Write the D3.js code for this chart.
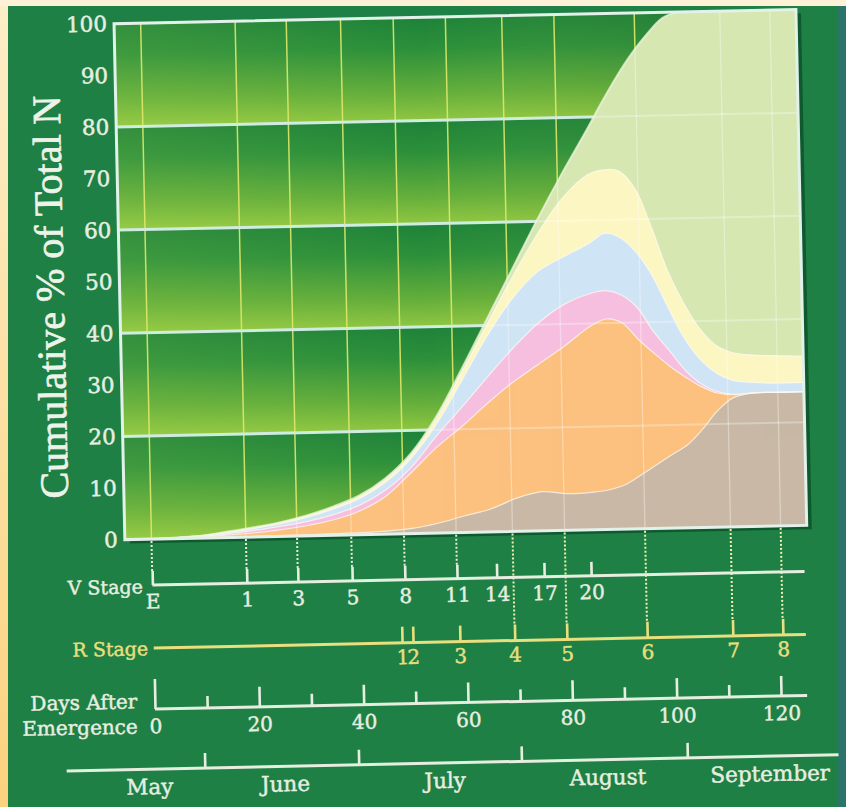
<!DOCTYPE html>
<html>
<head>
<meta charset="utf-8">
<script src="https://cdn.jsdelivr.net/npm/d3@7"></script>
<style>
  html, body { margin: 0; padding: 0; background: #1f8046; }
  svg { display: block; }
</style>
</head>
<body>
<svg id="chart" width="846" height="807"></svg>
<script>
// ---- data -------------------------------------------------------------
// days after emergence at which each band boundary is sampled
const dae       = [0, 5, 10, 15, 20, 25, 30, 35, 40, 45, 50, 55, 60, 65, 70, 75, 80, 85, 88, 91, 94, 97, 100, 103, 106, 109, 112, 116, 120, 125.6];
// cumulative % of total N at the top of each band (bottom to top)
const tanTop    = [0, 0, 0, 0.05, 0.1, 0.15, 0.2, 0.3, 0.4, 0.6, 1.0, 1.9, 3.2, 4.4, 6.4, 7.6, 7.1, 7.3, 7.7, 8.6, 10.4, 12.3, 14.2, 16.0, 19.0, 22.6, 25.0, 25.9, 25.9, 25.9];
const orangeTop = [0, 0.05, 0.2, 0.5, 0.8, 1.3, 2.0, 3.0, 4.6, 7.3, 11.8, 16.6, 20.6, 25.0, 29.0, 32.4, 35.8, 39.5, 40.8, 40.0, 36.8, 34.0, 31.4, 29.2, 27.3, 26.0, 25.6, 25.9, 25.9, 25.9];
const pinkTop   = [0, 0.1, 0.3, 0.8, 1.3, 2.0, 2.8, 4.0, 5.7, 8.5, 12.8, 18.8, 24.3, 30.0, 35.5, 40.3, 43.8, 45.8, 46.3, 45.4, 42.9, 38.2, 34.4, 30.5, 27.8, 26.3, 25.7, 25.9, 25.9, 25.9];
const blueTop   = [0, 0.2, 0.45, 1.0, 1.7, 2.5, 3.6, 5.1, 7.0, 10.0, 14.5, 21.0, 29.3, 37.8, 45.0, 50.2, 53.0, 55.5, 57.4, 56.5, 53.6, 49.0, 42.6, 36.6, 32.4, 29.8, 28.4, 27.9, 27.7, 27.7];
const yellowTop = [0, 0.2, 0.5, 1.1, 1.8, 2.7, 3.9, 5.4, 7.4, 10.5, 15.1, 22.0, 30.8, 40.0, 49.0, 57.3, 64.3, 68.8, 69.7, 69.4, 66.0, 58.5, 49.8, 43.4, 38.4, 35.2, 33.8, 33.2, 33.0, 32.8];
const greenTop  = [0, 0.2, 0.5, 1.2, 1.9, 2.8, 4.0, 5.6, 7.6, 10.8, 15.5, 22.5, 31.5, 41.0, 50.5, 60.0, 69.0, 77.5, 82.8, 87.8, 92.2, 95.9, 98.9, 100, 100, 100, 100, 100, 100, 100];

const yTicks = [0, 10, 20, 30, 40, 50, 60, 70, 80, 90, 100];
const gridValues = [20, 40, 60, 80];

const vStageLabels = ["E", "1", "3", "5", "8", "11", "14", "17", "20"];
const vStageDays   = [0, 18.1, 27.9, 38.3, 48.4, 58.4, 66.0, 75.1, 84.1];
const rStageLabels = ["1", "2", "3", "4", "5", "6", "7", "8"];
const rStageDays   = [47.6, 49.7, 58.7, 69.2, 79.2, 94.6, 111.0, 120.6];

const dayMajorTicks = [0, 20, 40, 60, 80, 100, 120];
const dayMinorTicks = [10, 30, 50, 70, 90, 110];

const monthNames     = ["May", "June", "July", "August", "September"];
const monthBreaks    = [9.3, 38.8, 70.0, 101.8];
const monthLabelDays = [-1.3, 24.7, 55.3, 86.5, 117.6];

// ---- setup ------------------------------------------------------------
const W = 846, H = 807;
const svg = d3.select("#chart");
const defs = svg.append("defs");

const SERIF = "'DejaVu Serif', serif";
const TITLE_SERIF = "'Liberation Serif', 'Times New Roman', serif";
const WHITE = "#e6eee0";
const YELLOW = "#e8df7e";

// page
svg.append("rect").attr("width", W).attr("height", H).attr("fill", "#1f8046");
svg.append("rect").attr("x", 837).attr("y", 0).attr("width", 9).attr("height", H).attr("fill", "#2a746a");
const edge = defs.append("linearGradient").attr("id", "edgeL")
  .attr("x1", 0).attr("y1", 0).attr("x2", 0).attr("y2", 1);
edge.append("stop").attr("offset", 0).attr("stop-color", "#fdeec8");
edge.append("stop").attr("offset", 1).attr("stop-color", "#fbd27e");
svg.append("rect").attr("x", 0).attr("y", 0).attr("width", 8).attr("height", H).attr("fill", "url(#edgeL)");
svg.append("rect").attr("x", 0).attr("y", 0).attr("width", W).attr("height", 6).attr("fill", "#fdf2d8");

// the printed figure sits slightly tilted on the page
const g = svg.append("g").attr("transform", "rotate(-1.2,440,400)");

const x = d3.scaleLinear().domain([-5.1, 125.6]).range([122, 804]);
const y = d3.scaleLinear().domain([0, 100]).range([533, 17]);
const [px0, px1] = x.range();
const [py1, py0] = [y(0), y(100)];

defs.append("clipPath").attr("id", "panelClip").append("rect")
  .attr("x", px0).attr("y", py0).attr("width", px1 - px0).attr("height", py1 - py0);

// drop shadow behind the plot panel
g.append("rect")
  .attr("x", px0 + 5).attr("y", py0 + 4)
  .attr("width", px1 - px0).attr("height", py1 - py0)
  .attr("fill", "#0e5a2e");

// ---- plot background: shaded 20% bands --------------------------------
const band = defs.append("linearGradient").attr("id", "bandFill")
  .attr("x1", 0).attr("y1", 0).attr("x2", 0).attr("y2", 1);
[[0, "#1d8239"], [0.3, "#2b8f3a"], [0.72, "#62ad3b"], [1, "#8fc641"]]
  .forEach(([o, c]) => band.append("stop").attr("offset", o).attr("stop-color", c));

const shade = defs.append("linearGradient").attr("id", "shadeH")
  .attr("x1", 0).attr("y1", 0).attr("x2", 1).attr("y2", 0);
shade.append("stop").attr("offset", 0).attr("stop-color", "#d8f060").attr("stop-opacity", 0.12);
shade.append("stop").attr("offset", 0.45).attr("stop-color", "#d8f060").attr("stop-opacity", 0);
shade.append("stop").attr("offset", 1).attr("stop-color", "#003818").attr("stop-opacity", 0.22);

const bandEdges = [0, 20, 40, 60, 80, 100];
g.selectAll("rect.band").data(d3.pairs(bandEdges)).join("rect")
  .attr("class", "band")
  .attr("x", px0).attr("width", px1 - px0)
  .attr("y", d => y(d[1])).attr("height", d => y(d[0]) - y(d[1]))
  .attr("fill", "url(#bandFill)");
g.append("rect").attr("x", px0).attr("y", py0)
  .attr("width", px1 - px0).attr("height", py1 - py0)
  .attr("fill", "url(#shadeH)");

// stage gridlines: V stages up to 11, then R stages from 4 on
const gridDays = vStageDays.slice(0, 6).concat(rStageDays.slice(3));
g.selectAll("line.vgrid").data(gridDays).join("line")
  .attr("class", "vgrid")
  .attr("x1", d => x(d)).attr("x2", d => x(d))
  .attr("y1", py0).attr("y2", py1)
  .attr("stroke", "#dfe96a").attr("stroke-width", 1.5).attr("opacity", 0.9);
g.selectAll("line.hgrid").data(gridValues).join("line")
  .attr("class", "hgrid")
  .attr("x1", px0).attr("x2", px1)
  .attr("y1", d => y(d)).attr("y2", d => y(d))
  .attr("stroke", "#cfece0").attr("stroke-width", 3);

// ---- stacked bands ----------------------------------------------------
const layers = [
  { top: tanTop,    fill: "#c8b8a5" },
  { top: orangeTop, fill: "#fcc17e" },
  { top: pinkTop,   fill: "#f6bfe0" },
  { top: blueTop,   fill: "#cfe4f5" },
  { top: yellowTop, fill: "#fcf6c3" },
  { top: greenTop,  fill: "#d6e7b2" }
];

const curve = d3.curveCatmullRom.alpha(0.5);
const area = d3.area().curve(curve)
  .x(d => x(d.day)).y0(d => y(d.lo)).y1(d => y(d.hi));
const line = d3.line().curve(curve).x(d => x(d.day)).y(d => y(d.hi));

const bandsG = g.append("g").attr("clip-path", "url(#panelClip)");

// paint from the top band down so each lower band sits over the one above
for (let i = layers.length - 1; i >= 0; i--) {
  const pts = dae.map((day, j) => ({ day, lo: 0, hi: layers[i].top[j] }));
  bandsG.append("path").datum(pts).attr("d", area).attr("fill", layers[i].fill);
}

// faint gridlines show through the pastel bands
defs.append("clipPath").attr("id", "bandClip").append("path")
  .datum(dae.map((day, j) => ({ day, lo: 0, hi: greenTop[j] })))
  .attr("d", area);
const faint = bandsG.append("g").attr("clip-path", "url(#bandClip)");
faint.selectAll("line.fv").data(gridDays).join("line")
  .attr("x1", d => x(d)).attr("x2", d => x(d)).attr("y1", py0).attr("y2", py1)
  .attr("stroke", "#ffffff").attr("stroke-width", 1.3).attr("opacity", 0.35);
faint.selectAll("line.fh").data(gridValues).join("line")
  .attr("x1", px0).attr("x2", px1).attr("y1", d => y(d)).attr("y2", d => y(d))
  .attr("stroke", "#ffffff").attr("stroke-width", 2).attr("opacity", 0.3);

// pale outlines along each band's upper edge
layers.forEach((L, i) => {
  const pts = dae.map((day, j) => ({ day, hi: L.top[j] }));
  const last = i === layers.length - 1;
  bandsG.append("path").datum(pts).attr("d", line).attr("fill", "none")
    .attr("stroke", last ? "#eef6df" : "#fffaf0")
    .attr("stroke-width", last ? 2 : 1.2)
    .attr("opacity", 0.75);
});

// panel frame
g.append("rect").attr("x", px0).attr("y", py0)
  .attr("width", px1 - px0).attr("height", py1 - py0)
  .attr("fill", "none").attr("stroke", "#e2f2ea").attr("stroke-width", 3);

// ---- y axis -------------------------------------------------------------
const yAxis = g.append("g").attr("transform", `translate(${px0},0)`)
  .call(d3.axisLeft(y).tickValues(yTicks).tickSize(0).tickPadding(7));
yAxis.select(".domain").remove();
yAxis.selectAll("text")
  .attr("fill", WHITE).attr("stroke", WHITE).attr("stroke-width", 0.5)
  .attr("font-family", SERIF).attr("font-size", 21.5);

g.append("text")
  .attr("transform", "translate(66,289) rotate(-90)")
  .attr("text-anchor", "middle")
  .attr("font-family", TITLE_SERIF).attr("font-size", 40)
  .attr("fill", "#edf3e8").attr("stroke", "#edf3e8").attr("stroke-width", 0.7)
  .text("Cumulative % of Total N");

// ---- timeline axes under the plot -------------------------------------
const vY = 579, rY = 642, dY = 703, mY = 763;

function styleAxis(sel, color, size) {
  sel.select(".domain").remove();
  sel.selectAll(".tick line").attr("stroke", color).attr("stroke-width", 2.6);
  sel.selectAll(".tick text").attr("fill", color)
    .attr("stroke", color).attr("stroke-width", 0.45)
    .attr("font-family", SERIF).attr("font-size", size);
}
function label(txt, lx, ly, color, size) {
  g.append("text").attr("x", lx).attr("y", ly).attr("text-anchor", "end")
    .attr("font-family", SERIF).attr("font-size", size)
    .attr("fill", color).attr("stroke", color).attr("stroke-width", 0.45)
    .text(txt);
}

// dotted drop lines from the plot to the stage ticks
g.selectAll("line.vdrop").data(vStageDays.slice(0, 6)).join("line")
  .attr("x1", d => x(d)).attr("x2", d => x(d))
  .attr("y1", py1 + 2).attr("y2", vY - 14)
  .attr("stroke", "#e4ecd6").attr("stroke-width", 2).attr("stroke-dasharray", "2 2");
g.selectAll("line.rdrop").data(rStageDays.slice(3)).join("line")
  .attr("x1", d => x(d)).attr("x2", d => x(d))
  .attr("y1", py1 + 2).attr("y2", rY - 16)
  .attr("stroke", "#eef0b0").attr("stroke-width", 2).attr("stroke-dasharray", "2 2");

// V stage
g.append("line").attr("x1", x(0)).attr("x2", x(125))
  .attr("y1", vY).attr("y2", vY).attr("stroke", WHITE).attr("stroke-width", 3);
const vAxis = g.append("g").attr("transform", `translate(0,${vY})`)
  .call(d3.axisBottom(x).tickValues(vStageDays)
    .tickFormat((d, i) => vStageLabels[i]).tickSize(-14).tickPadding(9));
styleAxis(vAxis, WHITE, 20);
label("V Stage", 139, vY + 8, WHITE, 19);

// R stage
g.append("line").attr("x1", x(0)).attr("x2", x(125))
  .attr("y1", rY).attr("y2", rY).attr("stroke", YELLOW).attr("stroke-width", 3);
const rAxis = g.append("g").attr("transform", `translate(0,${rY})`)
  .call(d3.axisBottom(x).tickValues(rStageDays)
    .tickFormat((d, i) => rStageLabels[i]).tickSize(-16).tickPadding(7));
styleAxis(rAxis, YELLOW, 20);
label("R Stage", 143, rY + 7, YELLOW, 19);

// days after emergence
g.append("line").attr("x1", x(0)).attr("x2", x(125))
  .attr("y1", dY).attr("y2", dY).attr("stroke", WHITE).attr("stroke-width", 3);
const dMinor = g.append("g").attr("transform", `translate(0,${dY})`)
  .call(d3.axisBottom(x).tickValues(dayMinorTicks).tickFormat("").tickSize(-12));
styleAxis(dMinor, WHITE, 20);
const dMajor = g.append("g").attr("transform", `translate(0,${dY})`)
  .call(d3.axisBottom(x).tickValues(dayMajorTicks).tickSize(-20).tickPadding(10));
styleAxis(dMajor, WHITE, 20);
dMajor.selectAll(".tick").filter(d => d === 0).select("line").attr("y2", -30);
label("Days After", 131, dY - 1, WHITE, 20);
label("Emergence", 131, dY + 24, WHITE, 20);

// calendar months
g.append("line").attr("x1", 59).attr("x2", 831)
  .attr("y1", mY).attr("y2", mY).attr("stroke", WHITE).attr("stroke-width", 3);
const mAxis = g.append("g").attr("transform", `translate(0,${mY})`)
  .call(d3.axisBottom(x).tickValues(monthBreaks).tickFormat("").tickSize(-15));
styleAxis(mAxis, WHITE, 20);
g.selectAll("text.month").data(monthNames).join("text")
  .attr("class", "month")
  .attr("x", (d, i) => x(monthLabelDays[i])).attr("y", mY + 25)
  .attr("text-anchor", "middle")
  .attr("font-family", SERIF).attr("font-size", 21.5)
  .attr("fill", WHITE).attr("stroke", WHITE).attr("stroke-width", 0.45)
  .text(d => d);
</script>
</body>
</html>
